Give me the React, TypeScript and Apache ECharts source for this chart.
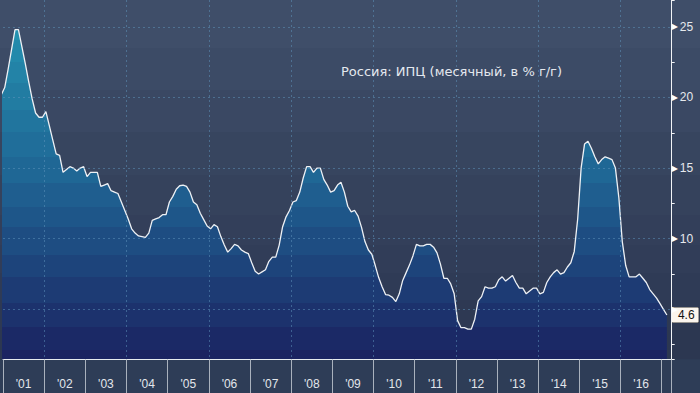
import React, { useEffect, useRef } from 'react';
import * as echarts from 'echarts';

// ---------- DATA ----------
const startYear = 2001;
const cpiDec2000 = 20.2;
const cpi2001 = [20.7, 22.0, 23.4, 24.8, 24.8, 23.6, 22.4, 21.1, 19.9, 18.9, 18.6, 18.6];
const cpi2002 = [19.0, 18.0, 17.0, 16.0, 15.9, 14.7, 14.9, 15.1, 15.0, 14.8, 15.0, 15.1];
const cpi2003 = [14.4, 14.7, 14.7, 14.7, 13.7, 13.8, 13.9, 13.4, 13.3, 13.2, 12.6, 12.0];
const cpi2004 = [11.4, 10.7, 10.4, 10.2, 10.15, 10.1, 10.4, 11.3, 11.4, 11.5, 11.7, 11.7];
const cpi2005 = [12.6, 13.0, 13.5, 13.75, 13.8, 13.7, 13.3, 12.6, 12.4, 11.8, 11.35, 10.9];
const cpi2006 = [10.7, 11.0, 10.85, 10.15, 9.55, 9.05, 9.3, 9.6, 9.5, 9.2, 9.05, 8.95];
const cpi2007 = [8.3, 7.7, 7.5, 7.65, 7.8, 8.4, 8.7, 8.7, 9.55, 10.85, 11.55, 12.0];
const cpi2008 = [12.6, 12.7, 13.3, 14.3, 15.1, 15.1, 14.7, 15.0, 15.0, 14.2, 13.8, 13.3];
const cpi2009 = [13.4, 13.8, 14.0, 13.3, 12.3, 11.9, 12.0, 11.6, 10.8, 9.8, 9.2, 8.9];
const cpi2010 = [8.1, 7.25, 6.6, 6.05, 6.0, 5.85, 5.55, 6.1, 7.05, 7.6, 8.15, 8.8];
const cpi2011 = [9.6, 9.5, 9.5, 9.6, 9.6, 9.4, 9.0, 8.2, 7.2, 7.2, 6.8, 6.1];
const cpi2012 = [4.2, 3.7, 3.7, 3.6, 3.6, 4.3, 5.6, 5.9, 6.6, 6.5, 6.5, 6.6];
const cpi2013 = [7.1, 7.3, 7.0, 7.2, 7.4, 6.9, 6.5, 6.5, 6.1, 6.3, 6.5, 6.5];
const cpi2014 = [6.1, 6.2, 6.9, 7.3, 7.6, 7.8, 7.5, 7.6, 8.0, 8.3, 9.1, 11.4];
const cpi2015 = [15.0, 16.7, 16.9, 16.4, 15.8, 15.3, 15.6, 15.8, 15.7, 15.6, 15.0, 12.9];
const cpi2016 = [9.8, 8.1, 7.3, 7.3, 7.3, 7.5, 7.2, 6.9, 6.4, 6.1, 5.8, 5.4];
const cpi2017 = [5.0, 4.6];

const yearLabels = ["'01", "'02", "'03", "'04", "'05", "'06", "'07", "'08", "'09", "'10", "'11", "'12", "'13", "'14", "'15", "'16"];
const yTickValues = [5, 10, 15, 20, 25];
// the "5" label sits behind the last-value flag in the reference, only its marker shows
const yHiddenLabels = [5];
const titleText = 'Россия: ИПЦ (месячный, в % г/г)';

const yMin = 1.45;
const yMax = 26.9;
const xMin = 2001;
const xMax = 2017.242;

// ---------- BUILD ----------
const years = [cpi2001, cpi2002, cpi2003, cpi2004, cpi2005, cpi2006, cpi2007, cpi2008, cpi2009,
  cpi2010, cpi2011, cpi2012, cpi2013, cpi2014, cpi2015, cpi2016, cpi2017];
const points: number[][] = [[startYear - 0.5 / 12, cpiDec2000]];
years.forEach((arr, yi) => {
  arr.forEach((v, m) => points.push([startYear + yi + (m + 0.5) / 12, v]));
});

type RGB = [number, number, number];
function lerp3(stops: [number, RGB][], y: number): string {
  let a = stops[0], b = stops[stops.length - 1];
  for (let i = 0; i < stops.length - 1; i++) {
    if (y >= stops[i][0] && y <= stops[i + 1][0]) { a = stops[i]; b = stops[i + 1]; break; }
  }
  const t = b[0] === a[0] ? 0 : Math.min(1, Math.max(0, (y - a[0]) / (b[0] - a[0])));
  const c = a[1].map((v, k) => Math.round(v + (b[1][k] - v) * t));
  return `rgb(${c[0]},${c[1]},${c[2]})`;
}
function stepped(edges: number[], total: number, stops: [number, RGB][]) {
  const out: { offset: number; color: string }[] = [];
  for (let i = 0; i < edges.length - 1; i++) {
    const c = lerp3(stops, (edges[i] + edges[i + 1]) / 2);
    out.push({ offset: Math.min(1, edges[i] / total), color: c });
    out.push({ offset: Math.min(1, edges[i + 1] / total), color: c });
  }
  return out;
}

const areaEdges = [0, 40, 62, 83, 110, 132, 157, 183, 207, 227, 255, 277, 303, 327, 350, 360];
const areaStops: [number, RGB][] = [[0, [37, 152, 180]], [180, [31, 100, 147]], [360, [27, 33, 96]]];
const bgEdges = [0, 48, 90, 132, 175, 215, 245, 273, 300, 330, 360];
const bgStops: [number, RGB][] = [[0, [64, 80, 107]], [360, [43, 54, 80]]];

const FONT = "'Liberation Sans', Arial, sans-serif";
const TITLE_FONT = "'DejaVu Sans', sans-serif";
const gridLine = { color: 'rgba(95,150,190,0.5)', type: [2, 3] as any, width: 1 };

export default function App() {
  const ref = useRef<HTMLDivElement>(null);
  useEffect(() => {
    const chart = echarts.init(ref.current!, undefined, { renderer: 'svg' });
    const areaGradient = new echarts.graphic.LinearGradient(0, 0, 0, 360, stepped(areaEdges, 360, areaStops), true);
    const bgGradient = new echarts.graphic.LinearGradient(0, 0, 0, 1, stepped(bgEdges, 359.5, bgStops));
    chart.setOption({
      animation: false,
      backgroundColor: 'transparent',
      title: {
        text: titleText, left: 341, top: 65, padding: 0,
        textStyle: { color: '#e4e8ee', fontSize: 13, fontWeight: 'normal', fontFamily: TITLE_FONT },
      },
      graphic: [
        { type: 'rect', z: -10, silent: true, shape: { x: 0, y: 0, width: 700, height: 359.5 }, style: { fill: bgGradient } },
        { type: 'rect', z: -10, silent: true, shape: { x: 0, y: 359.5, width: 700, height: 34 }, style: { fill: '#2e3d57' } },
      ],
      grid: { left: 1.4, right: 28.3, top: 0, bottom: 33.5, containLabel: false },
      xAxis: [
        {
          type: 'value', min: xMin, max: xMax, interval: 1, position: 'bottom', z: 4,
          axisLine: { show: true, onZero: false, lineStyle: { color: '#e6e9ee', width: 1 } },
          axisTick: { show: true, length: 34, lineStyle: { color: '#a9b1bd', width: 1 } },
          axisLabel: { show: false },
          splitLine: { show: false },
        },
        {
          type: 'value', min: xMin - 0.5, max: xMax - 0.5, minInterval: 1, maxInterval: 1, position: 'bottom',
          axisLine: { show: false, onZero: false }, axisTick: { show: false }, splitLine: { show: false },
          axisLabel: {
            show: true, margin: 18, color: '#e2e6eb', fontSize: 12, fontFamily: FONT,
            formatter: (v: number) => {
              const i = Math.round(v) - startYear;
              return Math.abs(v - Math.round(v)) < 1e-6 && i >= 0 && i < yearLabels.length ? yearLabels[i] : '';
            },
          },
        },
        {
          type: 'value', min: xMin, max: xMax, minInterval: 2, maxInterval: 2, position: 'bottom', z: 3,
          axisLine: { show: false, onZero: false }, axisTick: { show: false }, axisLabel: { show: false },
          splitLine: { show: true, showMinLine: false, showMaxLine: false, lineStyle: gridLine },
        },
      ],
      yAxis: [
        {
          type: 'value', min: yMin, max: yMax, minInterval: 5, maxInterval: 5, position: 'right', z: 4,
          axisLine: { show: true, lineStyle: { color: '#f2f4f7', width: 1 } },
          axisTick: { show: false },
          splitLine: { show: true, showMinLine: false, showMaxLine: false, lineStyle: gridLine },
          axisLabel: {
            show: true, margin: 0, fontFamily: FONT,
            formatter: (v: number) => {
              if (!yTickValues.includes(v)) return '';
              return yHiddenLabels.includes(v) ? '{t|▶}' : `{t|▶}{v|${v}}`;
            },
            rich: {
              t: { fontSize: 8, color: '#ffffff', fontFamily: TITLE_FONT, padding: [0, 2, 0, 0] },
              v: { fontSize: 12, color: '#e6e9ee', fontFamily: FONT },
            },
          },
        },
        {
          type: 'value', min: yMin, max: yMax, minInterval: 2.5, maxInterval: 2.5, position: 'right', z: 4,
          axisLine: { show: false }, splitLine: { show: false }, axisLabel: { show: false },
          axisTick: { show: true, length: 3, lineStyle: { color: '#f2f4f7', width: 1 } },
        },
      ],
      series: [
        {
          type: 'line', xAxisIndex: 0, yAxisIndex: 0, data: points, symbol: 'none', showSymbol: false,
          z: 2, clip: true,
          lineStyle: { color: '#eef1f5', width: 1.3 },
          areaStyle: { color: areaGradient, opacity: 1, origin: 'start' },
          endLabel: {
            show: true, distance: 5,
            formatter: (p: any) => String(p.value[1]),
            color: '#111111', fontSize: 12, fontFamily: FONT,
            backgroundColor: '#fbf5ee', borderColor: '#333333', borderWidth: 0.6, borderRadius: 1,
            padding: [2, 4, 1, 6],
          },
        },
      ],
    });
    return () => chart.dispose();
  }, []);
  return <div ref={ref} style={{ position: 'fixed', left: 0, top: 0, width: 700, height: 393, background: '#2e3d57' }} />;
}
